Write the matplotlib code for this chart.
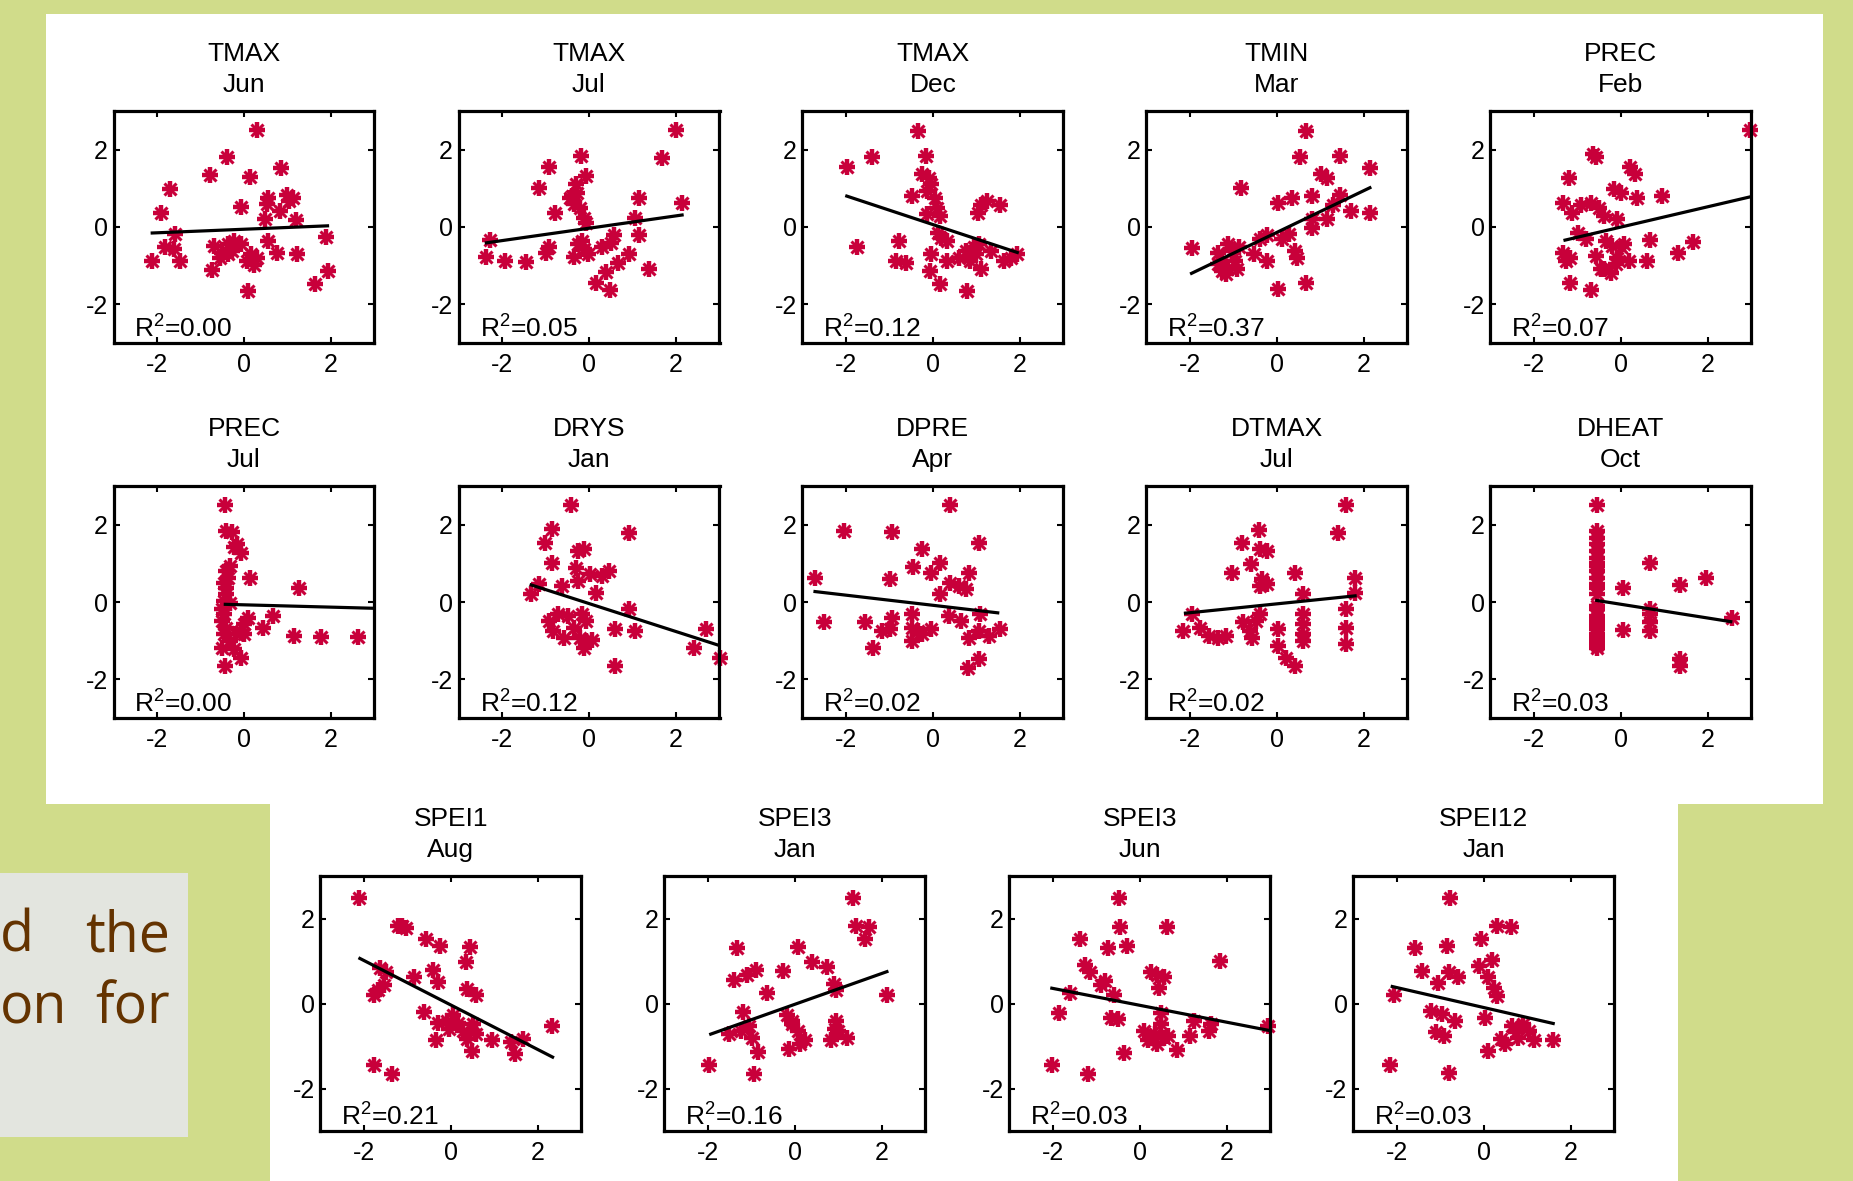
import matplotlib.pyplot as plt
import numpy as np
from matplotlib.patches import Rectangle

plt.rcParams['font.family'] = ['Liberation Sans', 'DejaVu Sans']
plt.rcParams['axes.unicode_minus'] = False
plt.rcParams['mathtext.fontset'] = 'custom'
plt.rcParams['mathtext.rm'] = 'Liberation Sans'
plt.rcParams['mathtext.default'] = 'regular'

# panel titles: climate variable and month
variables = ['TMAX', 'TMAX', 'TMAX', 'TMIN', 'PREC',
             'PREC', 'DRYS', 'DPRE', 'DTMAX', 'DHEAT',
             'SPEI1', 'SPEI3', 'SPEI3', 'SPEI12']
months = ['Jun', 'Jul', 'Dec', 'Mar', 'Feb',
          'Jul', 'Jan', 'Apr', 'Jul', 'Oct',
          'Aug', 'Jan', 'Jun', 'Jan']
r2 = [0.00, 0.05, 0.12, 0.37, 0.07, 0.00, 0.12, 0.02, 0.02, 0.03, 0.21, 0.16, 0.03, 0.03]

# least-squares lines (slope, intercept) and the x span they cover
slopes = [0.046, 0.16, -0.372, 0.54, 0.263, -0.03, -0.362, -0.131, 0.115, -0.178,
          -0.524, 0.363, -0.199, -0.235]
intercepts = [-0.058, -0.032, 0.063, -0.14, -0.003, -0.073, -0.04, -0.085, -0.048, -0.058,
              -0.035, -0.02, -0.042, -0.094]
fit_lo = [-2.11, -2.36, -1.98, -1.96, -1.28, -0.43, -1.33, -2.71, -2.10, -0.55,
          -2.09, -1.93, -2.02, -2.10]
fit_hi = [1.92, 2.14, 1.94, 2.14, 2.98, 2.97, 2.98, 1.49, 1.80, 2.53,
          2.34, 2.12, 2.96, 1.60]

# standardized climate variable (x) vs standardized growth index (y)
tmax_jun_x = [0.29, -0.38, -0.78, 0.13, 0.84, -1.70, -1.91, -0.07, 0.55, 0.52,
              0.83, 0.99, 1.13, 1.03, 0.48, 1.20, -1.58, -1.81, -1.62, -2.11,
              -1.46, -0.69, -0.55, -0.36, -0.27, -0.50, -0.74, 0.07, 0.17, 0.29,
              0.22, 0.55, 0.76, 1.22, 0.10, 1.89, 1.92, 1.64, -0.22, -0.36, -0.08]
tmax_jun_y = [2.50, 1.82, 1.34, 1.29, 1.53, 0.99, 0.37, 0.53, 0.76, 0.59,
              0.41, 0.84, 0.76, 0.67, 0.20, 0.17, -0.19, -0.53, -0.58, -0.88,
              -0.88, -0.49, -0.79, -0.45, -0.62, -0.66, -1.12, -0.88, -0.71, -0.79,
              -0.97, -0.36, -0.66, -0.69, -1.66, -0.26, -1.14, -1.47, -0.36, -0.71, -0.45]

tmax_jul_x = [2.00, 1.67, -0.18, -0.91, -0.08, -1.16, -0.39, -0.27, -0.35, -0.21,
              -0.79, -0.11, -0.07, 1.15, 2.14, 1.06, -2.27, -2.36, -1.92, -1.44,
              -1.00, -0.91, 1.15, 0.57, 0.50, 0.31, -0.25, -0.11, -0.35, -0.02,
              0.40, 0.17, 0.48, 0.67, 0.92, 1.39, -0.16, -0.44, -0.30]
tmax_jul_y = [2.51, 1.79, 1.84, 1.55, 1.32, 1.02, 0.80, 0.89, 0.59, 0.50,
              0.37, 0.24, 0.11, 0.76, 0.61, 0.24, -0.34, -0.78, -0.88, -0.90,
              -0.66, -0.53, -0.21, -0.21, -0.41, -0.53, -0.45, -0.58, -0.78, -0.69,
              -1.16, -1.44, -1.64, -0.92, -0.71, -1.09, -0.36, 0.76, 1.10]

tmax_dec_x = [-0.34, -0.16, -1.39, -1.98, -0.24, -0.09, -0.04, -0.14, -0.48, 0.04,
              0.09, -0.14, 0.16, 1.10, 1.24, 1.54, 1.03, -1.74, -0.78, -0.85,
              -0.61, -0.04, -0.06, 0.16, 0.33, 0.33, 0.11, 0.18, 0.60, 0.75,
              0.95, 1.05, 0.85, 0.78, 1.10, 1.34, 1.64, 1.79, 1.94, 1.00]
tmax_dec_y = [2.49, 1.83, 1.81, 1.55, 1.36, 1.27, 1.10, 0.93, 0.80, 0.76,
              0.50, 0.33, 0.28, 0.58, 0.67, 0.58, 0.37, -0.51, -0.36, -0.88,
              -0.92, -0.69, -1.14, -1.48, -0.88, -0.36, -0.15, -0.28, -0.79, -0.62,
              -0.53, -0.45, -0.88, -1.65, -1.09, -0.62, -0.88, -0.79, -0.69, -0.71]

tmin_mar_x = [0.66, 0.54, 1.45, 2.14, 1.01, 1.16, -0.82, 0.02, 0.35, 0.81,
              1.45, 1.30, 1.70, 2.14, 0.81, 1.16, -1.96, -1.36, -1.12, -1.02,
              -1.26, -1.12, -0.92, -1.17, -1.36, -0.52, -0.23, -0.38, 0.12, 0.27,
              -0.23, 0.41, 0.46, 0.02, 0.66, -0.87, -0.97, 0.81, -1.26]
tmin_mar_y = [2.49, 1.81, 1.83, 1.53, 1.36, 1.27, 1.02, 0.63, 0.76, 0.80,
              0.84, 0.58, 0.41, 0.37, 0.20, 0.20, -0.55, -0.66, -0.45, -0.62,
              -0.88, -1.05, -1.09, -1.22, -0.96, -0.69, -0.21, -0.32, -0.32, -0.19,
              -0.88, -0.62, -0.79, -1.61, -1.44, -0.53, -0.88, -0.02, -1.14]

prec_feb_x = [2.98, -0.57, -0.64, 0.21, 0.34, -1.18, -0.15, 0.00, 0.38, 0.94,
              -1.32, -1.13, -0.91, -0.68, -0.49, -0.38, -0.08, -0.98, -0.79, 0.68,
              1.66, 1.32, -1.32, -1.17, -1.25, -0.57, -0.34, -0.19, 0.00, 0.08,
              -0.08, 0.19, 0.60, -0.38, -0.23, -1.17, -0.68, -0.45, -0.11]
prec_feb_y = [2.50, 1.81, 1.88, 1.55, 1.36, 1.27, 0.97, 0.89, 0.76, 0.80,
              0.63, 0.37, 0.58, 0.63, 0.50, 0.28, 0.20, -0.15, -0.32, -0.34,
              -0.40, -0.66, -0.66, -0.79, -0.88, -0.75, -0.36, -0.49, -0.53, -0.45,
              -0.79, -0.88, -0.88, -1.09, -1.18, -1.46, -1.63, -1.09, -0.96]

prec_jul_x = [-0.43, -0.41, -0.27, -0.15, -0.08, -0.22, -0.32, -0.41, -0.36, -0.46,
              -0.41, -0.41, 0.13, 1.27, -0.50, -0.46, -0.50, -0.41, -0.46, -0.32,
              -0.22, -0.08, -0.43, 0.10, 0.01, -0.08, 0.43, 0.66, 1.16, 1.78,
              2.62, -0.32, -0.18, 0.01, -0.50, -0.46]
prec_jul_y = [2.51, 1.84, 1.80, 1.49, 1.28, 1.41, 0.93, 0.80, 0.63, 0.50,
              0.37, 0.20, 0.63, 0.37, -0.19, -0.32, -0.49, -0.66, -0.84, -1.01,
              -1.22, -1.44, -1.66, -0.41, -0.58, -0.75, -0.68, -0.36, -0.88, -0.91,
              -0.91, -0.02, -0.84, -0.84, -1.18, 0.03]

drys_jan_x = [-0.41, 0.92, -0.86, -1.02, -0.25, -0.11, -0.86, -0.30, 0.03, 0.45,
              0.31, -0.25, -0.63, 0.17, -1.33, -1.14, 0.92, -0.91, -0.72, -0.49,
              -0.16, -0.82, -0.58, -0.35, -0.21, -0.07, -0.11, 0.07, 0.59, 1.06,
              0.59, 2.70, 2.42, 3.00, -0.07]
drys_jan_y = [2.51, 1.79, 1.88, 1.53, 1.32, 1.36, 1.00, 0.89, 0.72, 0.80,
              0.67, 0.54, 0.41, 0.24, 0.20, 0.46, -0.19, -0.49, -0.32, -0.36,
              -0.32, -0.75, -0.92, -0.66, -0.92, -1.01, -1.18, -0.97, -0.69, -0.75,
              -1.66, -0.69, -1.18, -1.46, -0.49]

dpre_apr_x = [0.39, -2.04, -0.95, 1.05, -0.26, 0.16, -0.45, -0.04, -0.98, 0.83,
              -2.71, 0.40, 0.60, 0.75, 0.16, -2.51, -1.57, -1.37, -1.17, -0.93,
              -0.98, -0.48, -0.48, -0.48, -0.24, -0.04, 0.36, 0.65, 1.08, 0.83,
              1.05, 1.29, 1.54, 1.05, 0.80, -0.34]
dpre_apr_y = [2.51, 1.84, 1.81, 1.53, 1.36, 1.02, 0.91, 0.76, 0.60, 0.74,
              0.63, 0.50, 0.41, 0.33, 0.20, -0.53, -0.51, -1.18, -0.75, -0.41,
              -0.71, -0.32, -0.66, -1.01, -0.84, -0.71, -0.36, -0.49, -0.32, -0.92,
              -0.75, -0.88, -0.71, -1.48, -1.70, -0.75]

dtmax_jul_x = [1.60, 1.40, -0.40, -0.79, -0.38, -0.23, -0.59, -1.02, -0.33, -0.23,
               -0.38, 0.41, 1.80, 1.80, 0.61, -2.15, -1.96, -1.76, -1.56, -1.36,
               -1.17, -0.77, -0.62, -0.47, -0.38, 0.02, 0.02, 0.22, 0.41, 0.61,
               0.61, 0.61, 0.61, 1.60, 1.60, 1.60, -0.57]
dtmax_jul_y = [2.51, 1.79, 1.85, 1.53, 1.36, 1.32, 0.97, 0.76, 0.59, 0.46,
               0.41, 0.74, 0.63, 0.24, 0.20, -0.75, -0.32, -0.66, -0.88, -0.94,
               -0.88, -0.53, -0.75, -0.49, -0.32, -0.71, -1.14, -1.44, -1.66, -0.32,
               -0.58, -0.84, -1.01, -0.19, -0.66, -1.09, -0.92]

dheat_oct_x = [-0.55, -0.55, -0.55, -0.55, -0.55, -0.55, -0.55, -0.55, -0.55, -0.55,
               -0.55, -0.55, -0.55, -0.55, -0.55, -0.55, -0.55, -0.55, -0.55, -0.55,
               -0.55, -0.55, -0.55, -0.55, -0.55, 0.05, 0.68, 1.36, 1.95, 0.06,
               0.68, 0.68, 0.68, 0.68, 1.36, 1.36, 2.57]
dheat_oct_y = [2.51, 1.84, 1.66, 1.49, 1.32, 1.15, 1.00, 0.93, 0.80, 0.63,
               0.46, 0.37, 0.20, -0.10, -0.19, -0.36, -0.45, -0.53, -0.62, -0.71,
               -0.84, -0.92, -1.01, -1.10, -1.18, 0.37, 1.00, 0.43, 0.63, -0.73,
               -0.19, -0.32, -0.53, -0.75, -1.48, -1.66, -0.41]

spei1_aug_x = [-2.12, -1.22, -1.02, -1.12, -0.57, -0.25, 0.44, 0.35, -0.84, -0.40,
               -0.30, -1.63, -1.48, -1.68, -1.76, -1.53, 0.37, 0.59, -0.61, -0.30,
               0.06, 0.16, -0.04, 0.27, 0.52, 0.57, 0.37, -0.35, 0.49, 0.95,
               1.39, 1.48, 1.65, 2.32, -1.76, -1.35, -0.09]
spei1_aug_y = [2.49, 1.82, 1.77, 1.83, 1.52, 1.35, 1.32, 0.98, 0.63, 0.79,
               0.50, 0.83, 0.75, 0.32, 0.21, 0.44, 0.35, 0.19, -0.19, -0.45,
               -0.26, -0.45, -0.60, -0.64, -0.49, -0.72, -0.84, -0.87, -1.11, -0.86,
               -0.91, -1.18, -0.84, -0.53, -1.45, -1.65, -0.41]

spei3_jan_x = [1.34, 1.41, 1.71, 1.61, -1.32, 0.08, 0.39, 0.74, -0.28, -0.89,
               -1.09, -1.40, -0.63, 0.90, 2.12, 0.95, -1.19, -1.50, -1.24, -1.04,
               -0.99, -0.84, -0.94, -1.96, -0.17, -0.07, 0.08, -0.12, 0.23, 0.13,
               0.83, 0.95, 1.00, 1.20, 0.93, -0.07]
spei3_jan_y = [2.49, 1.82, 1.80, 1.52, 1.31, 1.33, 0.98, 0.87, 0.77, 0.79,
               0.67, 0.56, 0.25, 0.46, 0.19, 0.32, -0.19, -0.72, -0.64, -0.53,
               -0.80, -1.15, -1.65, -1.44, -0.26, -0.49, -0.64, -1.07, -0.87, -0.95,
               -0.87, -0.41, -0.64, -0.80, -0.60, -0.41]

spei3_jun_x = [-0.47, -0.45, 0.63, -1.37, -0.72, -0.30, 1.85, -1.25, -1.15, -0.90,
               -0.80, -0.60, 0.25, 0.40, 0.55, 0.45, -1.60, -1.85, -2.02, -1.18,
               -0.65, -0.50, -0.35, 0.10, 0.20, 0.35, 0.50, 0.55, 0.40, 0.65,
               0.85, 1.15, 1.25, 1.60, 1.65, 2.96, 0.50]
spei3_jun_y = [2.49, 1.80, 1.81, 1.52, 1.31, 1.35, 1.00, 0.91, 0.75, 0.44,
               0.52, 0.21, 0.75, 0.67, 0.63, 0.36, 0.25, -0.22, -1.44, -1.65,
               -0.33, -0.37, -1.17, -0.64, -0.87, -0.72, -0.49, -0.80, -0.95, -0.76,
               -1.09, -0.76, -0.41, -0.64, -0.49, -0.54, -0.22]

spei12_jan_x = [-0.77, 0.30, 0.63, -0.07, -1.57, -0.85, 0.20, -0.10, -1.42, -0.80,
                -0.60, -1.05, 0.10, 0.25, 0.30, -2.05, -1.20, -0.95, -0.65, -1.10,
                -0.90, 0.03, -2.15, -0.80, 0.10, 0.40, 0.65, 0.75, 0.90, 1.05,
                1.15, 1.60, 0.80, 0.50]
spei12_jan_y = [2.49, 1.83, 1.80, 1.52, 1.31, 1.35, 1.02, 0.89, 0.77, 0.75,
                0.63, 0.48, 0.63, 0.36, 0.17, 0.21, -0.18, -0.24, -0.41, -0.68,
                -0.76, -0.33, -1.44, -1.63, -1.11, -0.84, -0.53, -0.68, -0.49, -0.64,
                -0.87, -0.87, -0.80, -0.95]

xs = [tmax_jun_x, tmax_jul_x, tmax_dec_x, tmin_mar_x, prec_feb_x,
      prec_jul_x, drys_jan_x, dpre_apr_x, dtmax_jul_x, dheat_oct_x,
      spei1_aug_x, spei3_jan_x, spei3_jun_x, spei12_jan_x]
ys = [tmax_jun_y, tmax_jul_y, tmax_dec_y, tmin_mar_y, prec_feb_y,
      prec_jul_y, drys_jan_y, dpre_apr_y, dtmax_jul_y, dheat_oct_y,
      spei1_aug_y, spei3_jan_y, spei3_jun_y, spei12_jan_y]

# ---- page layout (pixels, measured from the top-left corner) ----
W, H = 1853, 1181
GREEN = '#d0dc8a'
RED = '#c8003a'
BROWN = '#643300'

fig = plt.figure(figsize=(W / 100, H / 100), dpi=100, facecolor=GREEN)


def frac(x, y, w, h):
    return [x / W, 1 - (y + h) / H, w / W, h / H]


def box(x, y, w, h, color):
    fig.add_artist(Rectangle(frac(x, y, w, h)[:2], w / W, h / H, transform=fig.transFigure,
                             facecolor=color, edgecolor='none', zorder=-5))


box(46, 14, 1777, 790, 'white')
box(270, 804, 1408, 377, 'white')
box(0, 873, 188, 264, '#e3e5df')

# tail of the slide text peeking out on the left
fig.text(0 / W, 1 - 952 / H, 'd', fontsize=40, family='Open Sans', color=BROWN, va='baseline', ha='left')
fig.text(170 / W, 1 - 952 / H, 'the', fontsize=40, family='Open Sans', color=BROWN, va='baseline', ha='right')
fig.text(0 / W, 1 - 1023 / H, 'on', fontsize=40, family='Open Sans', color=BROWN, va='baseline', ha='left')
fig.text(170 / W, 1 - 1023 / H, 'for', fontsize=40, family='Open Sans', color=BROWN, va='baseline', ha='right')

upper_cols = [113.5, 458.5, 802.4, 1146.3, 1490.2]
lower_cols = [320.3, 664.2, 1009.2, 1353.1]
boxes = ([(c, 111, 261, 232) for c in upper_cols] +
         [(c, 486, 261, 232) for c in upper_cols] +
         [(c, 876, 261, 255) for c in lower_cols])

for i in range(14):
    ax = fig.add_axes(frac(*boxes[i]))
    # asterisk markers: a bold plus with thinner diagonals
    ax.plot(xs[i], ys[i], ls='none', marker='+', ms=11, mew=3.2,
            color=RED, clip_on=False, zorder=2)
    ax.plot(xs[i], ys[i], ls='none', marker='x', ms=8, mew=2.2,
            color=RED, clip_on=False, zorder=2)
    lx = np.array([fit_lo[i], fit_hi[i]])
    ax.plot(lx, slopes[i] * lx + intercepts[i], color='black', lw=2.3, zorder=3)

    ax.set_xlim(-3, 3)
    ax.set_ylim(-3, 3)
    ax.set_xticks([-2, 0, 2])
    ax.set_yticks([-2, 0, 2])
    ax.tick_params(direction='in', top=True, right=True, length=4, width=1.5,
                   labelsize=18, colors='black')
    ax.tick_params(axis='x', pad=7)
    ax.tick_params(axis='y', pad=4)
    for s in ax.spines.values():
        s.set_linewidth(2.3)

    ax.annotate(variables[i], xy=(0.5, 1), xycoords='axes fraction', xytext=(0, 50),
                textcoords='offset pixels', ha='center', va='baseline', fontsize=19)
    ax.annotate(months[i], xy=(0.5, 1), xycoords='axes fraction', xytext=(0, 19),
                textcoords='offset pixels', ha='center', va='baseline', fontsize=19)
    ax.annotate('R$^2$=%.2f' % r2[i], xy=(0, 0), xycoords='axes fraction', xytext=(21, 5),
                textcoords='offset pixels', ha='left', va='baseline', fontsize=19)

fig.savefig('out.png', dpi=100, facecolor=GREEN)
